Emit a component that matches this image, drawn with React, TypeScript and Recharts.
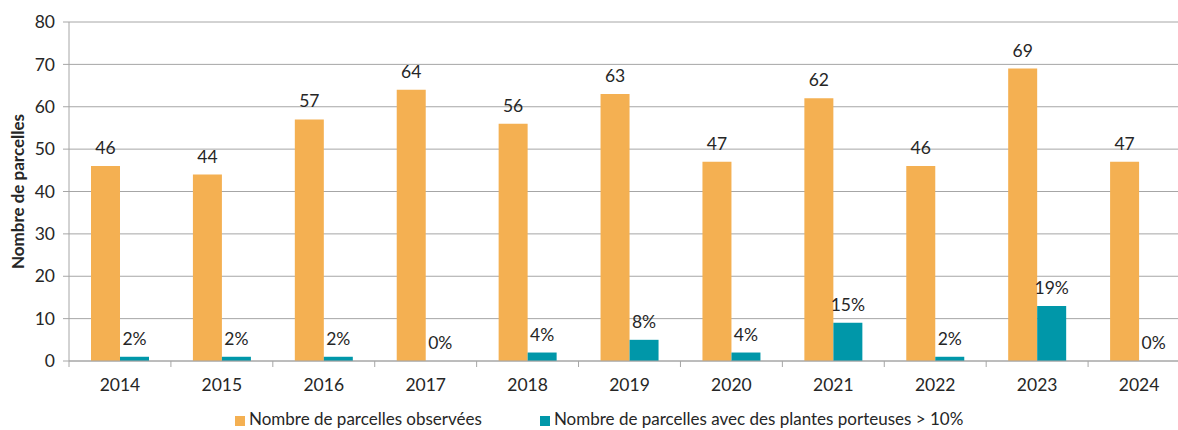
import React from 'react';
import { BarChart, Bar, XAxis, YAxis, CartesianGrid, LabelList, Legend } from 'recharts';

const years = ['2014', '2015', '2016', '2017', '2018', '2019', '2020', '2021', '2022', '2023', '2024'];
const observed = [46, 44, 57, 64, 56, 63, 47, 62, 46, 69, 47];
const carriers = [1, 1, 1, 0, 2, 5, 2, 9, 1, 13, 0];
const carrierPct = ['2%', '2%', '2%', '0%', '4%', '8%', '4%', '15%', '2%', '19%', '0%'];
const yTicks = [0, 10, 20, 30, 40, 50, 60, 70, 80];

const seriesNames = ['Nombre de parcelles observées', 'Nombre de parcelles avec des plantes porteuses > 10%'];
const ORANGE = '#F4B052';
const TEAL = '#0097A9';
const GRID = '#A6A6A6';
const TEXT = '#262626';
const FONT = 'Lato, "Noto Sans", sans-serif';

const data = years.map((y, i) => ({ year: y, observed: observed[i], carriers: carriers[i], pct: carrierPct[i] }));

const XTick = (props: any) => {
  const { x, y, payload } = props;
  const left = x - (payload.offset || 0);
  return (
    <g>
      <line x1={left} y1={y - 8} x2={left} y2={y - 2} stroke={GRID} strokeWidth={1} />
      <text x={x} y={y + 22} textAnchor="middle" fill={TEXT} fontSize={17.5} fontFamily={FONT}>
        {payload.value}
      </text>
    </g>
  );
};

const LegendContent = () => (
  <div style={{ display: 'flex', justifyContent: 'flex-start', paddingLeft: 235, paddingTop: 9, fontFamily: FONT, fontSize: 17, color: TEXT, lineHeight: '18px' }}>
    {seriesNames.map((n, i) => (
      <div key={n} style={{ display: 'flex', alignItems: 'center', marginRight: i === 0 ? 58 : 0 }}>
        <span style={{ display: 'inline-block', width: 10, height: 10, background: i === 0 ? ORANGE : TEAL, marginRight: 4, marginTop: 3 }} />
        <span>{n}</span>
      </div>
    ))}
  </div>
);

export default function App() {
  return (
    <div style={{ position: 'absolute', left: 0, top: 0, width: 1178, height: 430, overflow: 'hidden', background: '#fff' }}>
      <BarChart
        width={1190}
        height={430}
        data={data}
        margin={{ top: 22, right: 0, left: 0, bottom: 0 }}
        barGap={0}
        barCategoryGap={22}
      >
        <CartesianGrid vertical={false} stroke={GRID} />
        <XAxis
          dataKey="year"
          height={40}
          axisLine={{ stroke: GRID }}
          tickLine={false}
          tick={<XTick />}
          interval={0}
        />
        <YAxis
          width={69}
          domain={[0, 80]}
          ticks={yTicks}
          axisLine={{ stroke: GRID }}
          tickLine={{ stroke: GRID }}
          tickSize={6}
          tickMargin={8}
          tick={{ fill: TEXT, fontSize: 17.5, fontFamily: FONT }}
          label={{ value: 'Nombre de parcelles', angle: -90, position: 'insideLeft', offset: 18, style: { fontWeight: 'bold', fontSize: 17, fill: TEXT, fontFamily: FONT, textAnchor: 'middle' } }}
        />
        <Legend verticalAlign="bottom" height={29} content={<LegendContent />} />
        <Bar dataKey="observed" name={seriesNames[0]} fill={ORANGE} barSize={29} isAnimationActive={false}>
          <LabelList dataKey="observed" position="top" offset={12} style={{ fill: TEXT, fontSize: 17.5, fontFamily: FONT }} />
        </Bar>
        <Bar dataKey="carriers" name={seriesNames[1]} fill={TEAL} barSize={29} minPointSize={0.01} isAnimationActive={false}>
          <LabelList dataKey="pct" position="top" offset={12} style={{ fill: TEXT, fontSize: 17.5, fontFamily: FONT }} />
        </Bar>
      </BarChart>
    </div>
  );
}
